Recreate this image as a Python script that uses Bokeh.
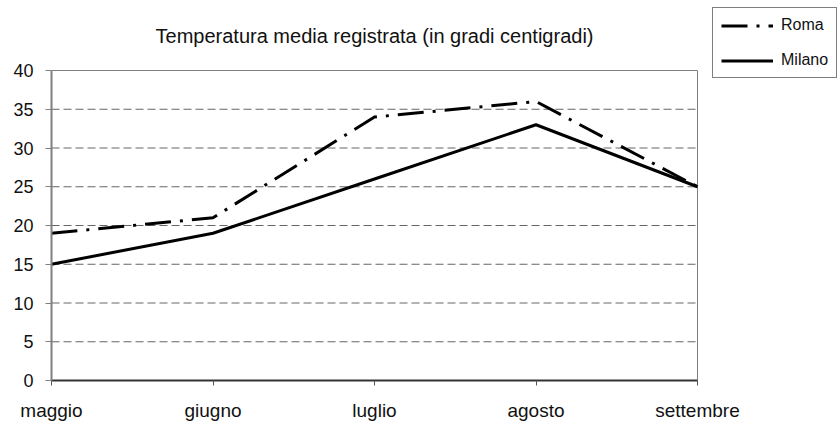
from bokeh.plotting import figure
from bokeh.models import Legend, LegendItem, FixedTicker, Range1d, Label
from bokeh.embed import file_html
from bokeh.resources import INLINE

months = ["maggio", "giugno", "luglio", "agosto", "settembre"]
roma = [19, 21, 34, 36, 25]
milano = [15, 19, 26, 33, 25]
y_ticks = [0, 5, 10, 15, 20, 25, 30, 35, 40]
title_text = "Temperatura media registrata (in gradi centigradi)"

xs = list(range(len(months)))
FONT = "Liberation Sans"

W, H = 839, 423
# plot box (pixels) inside the canvas
BOX_L, BOX_R, BOX_T, BOX_B = 51, 697, 70, 380
x_lo, x_hi = xs[0], xs[-1]
y_lo, y_hi = y_ticks[0], y_ticks[-1]
# frame spans from BOX_L to right edge and from top edge to BOX_B; extend ranges to keep data box in place
x_end = x_lo + (x_hi - x_lo) * (W - BOX_L) / (BOX_R - BOX_L)
y_end = y_lo + (y_hi - y_lo) * (BOX_B - 0) / (BOX_B - BOX_T)

p = figure(width=W, height=H, output_backend="svg", toolbar_location=None,
           x_range=Range1d(x_lo, x_end), y_range=Range1d(y_lo, y_end),
           min_border_left=BOX_L, min_border_right=0, min_border_top=0,
           min_border_bottom=H - BOX_B)

p.outline_line_color = None
p.background_fill_color = "white"
p.border_fill_color = "white"
p.xgrid.visible = False
p.ygrid.visible = False

# dashed horizontal grid lines (inside the plot box)
inner = y_ticks[1:-1]
p.segment(x0=[x_lo] * len(inner), x1=[x_hi] * len(inner), y0=inner, y1=inner,
          line_color="#666666", line_width=1, line_dash="8 4")
# plot box border: top and right
p.segment(x0=[x_lo, x_hi], x1=[x_hi, x_hi], y0=[y_hi, y_lo], y1=[y_hi, y_hi],
          line_color="#808080", line_width=1)

# x axis
p.xaxis.bounds = (x_lo, x_hi)
p.xaxis.ticker = FixedTicker(ticks=xs)
p.xaxis.major_label_overrides = {i: m for i, m in zip(xs, months)}
p.xaxis.axis_line_color = "#333333"
p.xaxis.axis_line_width = 2
p.xaxis.major_tick_line_color = "#555555"
p.xaxis.major_tick_out = 5
p.xaxis.major_tick_in = 0
p.xaxis.minor_tick_line_color = None
p.xaxis.major_label_standoff = 14
p.xaxis.major_label_text_font = FONT
p.xaxis.major_label_text_font_size = "19px"
p.xaxis.major_label_text_color = "#111111"

# y axis
p.yaxis.bounds = (y_lo, y_hi)
p.yaxis.ticker = FixedTicker(ticks=y_ticks)
p.yaxis.axis_line_color = "#808080"
p.yaxis.axis_line_width = 2
p.yaxis.major_tick_line_color = "#808080"
p.yaxis.major_tick_out = 6
p.yaxis.major_tick_in = 0
p.yaxis.minor_tick_line_color = None
p.yaxis.major_label_standoff = 12
p.yaxis.major_label_text_font = FONT
p.yaxis.major_label_text_font_size = "18px"
p.yaxis.major_label_text_color = "#111111"

r_roma = p.line(xs, roma, line_color="black", line_width=3, line_dash="26 9 3 9")
r_milano = p.line(xs, milano, line_color="black", line_width=3)

# title
p.add_layout(Label(x=(x_lo + x_hi) / 2, y=BOX_B - 35, y_units="screen", text=title_text,
                   text_align="center", text_baseline="middle", text_font=FONT,
                   text_font_size="20px", text_color="#111111"))

legend = Legend(items=[LegendItem(label="Roma", renderers=[r_roma]),
                       LegendItem(label="Milano", renderers=[r_milano])],
                location=(712 - BOX_L, BOX_B - 78))
legend.border_line_color = "black"
legend.border_line_width = 1.5
legend.background_fill_color = "white"
legend.background_fill_alpha = 1
legend.padding = 8
legend.spacing = 17
legend.glyph_width = 52
legend.glyph_height = 17
legend.label_height = 17
legend.label_standoff = 8
legend.label_text_font = FONT
legend.label_text_font_size = "16px"
legend.label_text_color = "#111111"
legend.margin = 0
p.add_layout(legend)

open("out.html", "w").write(file_html(p, INLINE))
